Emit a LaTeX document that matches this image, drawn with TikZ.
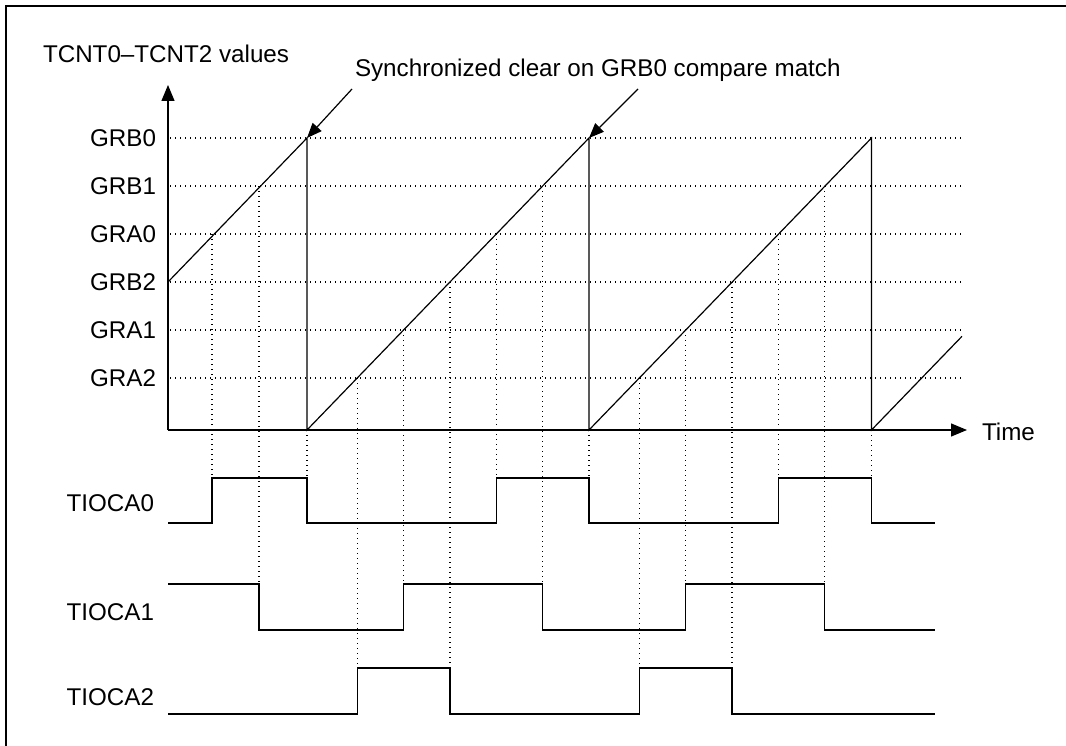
\documentclass[tikz,border=0pt]{standalone}
\usepackage{fontspec}
\setmainfont{Liberation Sans}
\usetikzlibrary{arrows.meta}
\begin{document}
\begin{tikzpicture}[x=1pt,y=-1pt,
  lbl/.style={font=\fontsize{24.2}{29}\selectfont, inner sep=0pt, outer sep=0pt},
  frameline/.style={line width=1.3pt},
  axisline/.style={line width=1.3pt, -{Triangle[length=16pt,width=13pt]}},
  wave/.style={line width=1.4pt, line join=miter},
  rampline/.style={line width=1.2pt, line join=miter},
  gridline/.style={line width=1.2pt, dash pattern=on 1.2pt off 3.8pt},
  callout/.style={line width=1.2pt, -{Triangle[length=15pt,width=12pt]}},
]
\useasboundingbox (0,0) rectangle (1066,746);
% frame (top and left edges)
\draw[frameline] (6,746) -- (6,6) -- (1066,6);

% key points
\coordinate (origin) at (168,430);
\coordinate (ytip) at (168,85);
\coordinate (xtip) at (967,430);
\coordinate (pk1) at (307,138);
\coordinate (pk2) at (589,138);
\coordinate (pk3) at (871.5,138);
\coordinate (cs1) at (352,89);
\coordinate (cs2) at (638,89);

% horizontal dotted levels
\foreach \yy in {138,186,234,282,330,378}
  \draw[gridline] (170,\yy) -- (962,\yy);

% level labels
\node[lbl,anchor=east] (lGRB0) at (156,138) {GRB0};
\node[lbl,anchor=east] (lGRB1) at (156,186) {GRB1};
\node[lbl,anchor=east] (lGRA0) at (156,234) {GRA0};
\node[lbl,anchor=east] (lGRB2) at (156,282) {GRB2};
\node[lbl,anchor=east] (lGRA1) at (156,330) {GRA1};
\node[lbl,anchor=east] (lGRA2) at (156,378) {GRA2};

% vertical dotted lines (compare-match instants)
\foreach \xx/\ya/\yb in {
   212/234/478, 259/186/584, 307/430/478,
   357.2/378/668, 403.6/330/584, 450/282/668, 496.3/234/478, 542.6/186/584, 589/430/478,
   639.2/378/668, 685.6/330/584, 731.9/282/668, 778.3/234/478, 824.6/186/584, 871.5/430/478}
  \draw[gridline] (\xx,\ya) -- (\xx,\yb);

% counter ramps
\draw[rampline] (168,282) -- (pk1) -- (307,430) -- (pk2) -- (589,430) -- (pk3) -- (871.5,430) -- (962,336.3);

% axes
\draw[axisline] (origin) -- (ytip);
\draw[axisline] (origin) -- (xtip);

% texts
\node[lbl,anchor=base west] (ylabel) at (43,63) {TCNT0–TCNT2 values};
\node[lbl,anchor=base west] (sync) at (355,77) {Synchronized clear on GRB0 compare match};
\node[lbl,anchor=west] (time) at (982,432) {Time};

% callout arrows
\draw[callout] (cs1) -- (pk1);
\draw[callout] (cs2) -- (pk2);

% waveforms
\node[lbl,anchor=east] (tio0) at (154,503) {TIOCA0};
\node[lbl,anchor=east] (tio1) at (154,612) {TIOCA1};
\node[lbl,anchor=east] (tio2) at (154,697) {TIOCA2};

\draw[wave] (168,523) -- (212,523) -- (212,478) -- (307,478) -- (307,523) -- (496.3,523) -- (496.3,478)
  -- (589,478) -- (589,523) -- (778.3,523) -- (778.3,478) -- (871.5,478) -- (871.5,523) -- (935,523);
\draw[wave] (168,584) -- (259,584) -- (259,630) -- (403.6,630) -- (403.6,584) -- (542.6,584) -- (542.6,630)
  -- (685.6,630) -- (685.6,584) -- (824.6,584) -- (824.6,630) -- (935,630);
\draw[wave] (168,714) -- (357.2,714) -- (357.2,668) -- (450,668) -- (450,714) -- (639.2,714) -- (639.2,668)
  -- (731.9,668) -- (731.9,714) -- (935,714);
\end{tikzpicture}
\end{document}
